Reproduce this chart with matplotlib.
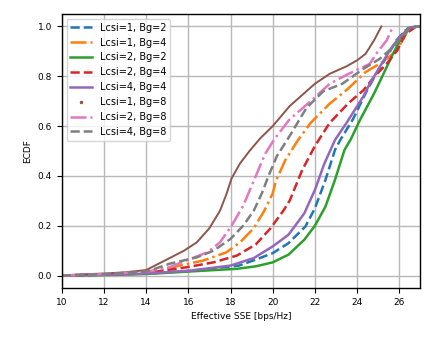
import matplotlib
matplotlib.use("Agg")
import matplotlib.pyplot as plt
from matplotlib.lines import Line2D

# ECDF curves: (Effective SSE, ECDF)
labels = ["Lcsi=1, Bg=2", "Lcsi=1, Bg=4", "Lcsi=2, Bg=2", "Lcsi=2, Bg=4",
          "Lcsi=4, Bg=4", "Lcsi=1, Bg=8", "Lcsi=2, Bg=8", "Lcsi=4, Bg=8"]

x_l1_b2 = [10.0, 12.0, 14.0, 16.0, 18.4, 19.2, 20.0, 20.75, 21.55, 22.0, 22.5, 22.95, 23.2, 23.8, 24.45, 24.9, 25.4, 25.86, 26.3, 26.8, 27.0]
y_l1_b2 = [0.0, 0.003, 0.008, 0.018, 0.04, 0.064, 0.09, 0.13, 0.197, 0.27, 0.384, 0.504, 0.544, 0.627, 0.74, 0.81, 0.877, 0.944, 0.985, 1.0, 1.0]

x_l1_b4 = [10.0, 12.0, 14.0, 15.6, 16.7, 17.8, 18.45, 19.1, 19.6, 20.0, 20.15, 20.6, 21.2, 21.8, 22.7, 23.5, 24.4, 25.2, 25.9, 26.4, 26.8, 27.0]
y_l1_b4 = [0.0, 0.005, 0.012, 0.04, 0.06, 0.093, 0.133, 0.19, 0.26, 0.33, 0.38, 0.464, 0.544, 0.613, 0.69, 0.745, 0.817, 0.857, 0.904, 0.984, 1.0, 1.0]

x_l2_b2 = [10.3, 12.0, 14.0, 16.0, 18.3, 19.2, 20.0, 20.75, 21.5, 22.0, 22.5, 22.95, 23.4, 23.7, 24.15, 24.8, 25.25, 25.7, 26.1, 26.4, 26.8, 27.0]
y_l2_b2 = [0.0, 0.002, 0.006, 0.016, 0.027, 0.037, 0.053, 0.084, 0.144, 0.2, 0.277, 0.384, 0.504, 0.547, 0.627, 0.73, 0.81, 0.89, 0.957, 0.993, 1.0, 1.0]

x_l2_b4 = [10.0, 12.0, 14.0, 15.9, 17.2, 18.3, 19.2, 19.9, 20.5, 20.8, 21.4, 22.0, 22.7, 23.6, 24.3, 24.8, 25.4, 25.9, 26.3, 26.8, 27.0]
y_l2_b4 = [0.0, 0.004, 0.01, 0.033, 0.053, 0.08, 0.125, 0.19, 0.26, 0.3, 0.424, 0.52, 0.613, 0.693, 0.744, 0.797, 0.85, 0.904, 0.97, 1.0, 1.0]

x_l4_b4 = [10.0, 12.0, 14.0, 16.1, 18.0, 19.1, 20.0, 20.75, 21.5, 22.0, 22.45, 22.95, 23.5, 24.3, 24.6, 25.07, 25.55, 26.0, 26.5, 26.8, 27.0]
y_l4_b4 = [0.0, 0.003, 0.008, 0.02, 0.04, 0.07, 0.117, 0.164, 0.25, 0.344, 0.45, 0.544, 0.613, 0.72, 0.77, 0.837, 0.904, 0.957, 0.995, 1.0, 1.0]

x_l1_b8 = [10.0, 11.0, 12.0, 13.0, 14.0, 15.0, 15.8, 16.4, 17.0, 17.5, 17.8, 18.05, 18.45, 18.9, 19.4, 20.0, 20.8, 22.0, 22.7, 23.5, 24.0, 24.4, 24.8, 25.15]
y_l1_b8 = [0.0, 0.005, 0.008, 0.013, 0.022, 0.065, 0.10, 0.133, 0.19, 0.26, 0.325, 0.39, 0.45, 0.5, 0.55, 0.6, 0.68, 0.77, 0.81, 0.84, 0.864, 0.89, 0.944, 1.0]

x_l2_b8 = [10.0, 12.0, 14.0, 15.1, 16.1, 16.9, 17.5, 18.05, 18.6, 19.1, 19.65, 20.1, 20.8, 21.8, 22.7, 23.6, 24.6, 24.9, 25.4, 25.7]
y_l2_b8 = [0.0, 0.006, 0.015, 0.033, 0.067, 0.093, 0.133, 0.2, 0.28, 0.38, 0.49, 0.55, 0.627, 0.7, 0.77, 0.81, 0.85, 0.89, 0.944, 1.0]

x_l4_b8 = [10.0, 12.0, 14.0, 15.1, 16.4, 17.2, 18.0, 18.6, 19.1, 19.5, 19.8, 20.2, 20.8, 21.6, 22.4, 23.3, 24.3, 25.07, 25.7, 26.1, 26.5, 26.8, 27.0]
y_l4_b8 = [0.0, 0.006, 0.015, 0.047, 0.073, 0.1, 0.147, 0.2, 0.26, 0.333, 0.4, 0.48, 0.56, 0.673, 0.74, 0.77, 0.83, 0.87, 0.917, 0.957, 0.99, 1.0, 1.0]

xs = [x_l1_b2, x_l1_b4, x_l2_b2, x_l2_b4, x_l4_b4, x_l1_b8, x_l2_b8, x_l4_b8]
ys = [y_l1_b2, y_l1_b4, y_l2_b2, y_l2_b4, y_l4_b4, y_l1_b8, y_l2_b8, y_l4_b8]
styles = ["--", "-.", "-", "--", "-", "-", "-.", "--"]
colors = ["C0", "C1", "C2", "C3", "C4", "C5", "C6", "C7"]

plt.rcParams["font.size"] = 6.5
fig = plt.figure(figsize=(4.35, 3.44), dpi=100)
ax = fig.add_axes([0.1418, 0.1628, 0.8247, 0.7965])

handles = []
for x, y, ls, c, lab in zip(xs, ys, styles, colors, labels):
    lw = 1.4 if lab == "Lcsi=1, Bg=8" else 1.8
    ln, = ax.plot(x, y, ls=ls, color=c, lw=lw, label=lab)
    if lab == "Lcsi=1, Bg=8":
        handles.append(Line2D([], [], ls="none", marker=".", ms=3, color=c, label=lab))
    else:
        handles.append(ln)

ax.set_xlim(10, 27)
ax.set_ylim(-0.05, 1.05)
ax.set_xticks([10, 12, 14, 16, 18, 20, 22, 24, 26])
ax.set_yticks([0.0, 0.2, 0.4, 0.6, 0.8, 1.0])
ax.grid(True, color="#b8b8b8", lw=1.0)
ax.set_axisbelow(True)
for s in ax.spines.values():
    s.set_linewidth(1.0)
ax.set_xlabel("Effective SSE [bps/Hz]")
ax.set_ylabel("ECDF")
ax.legend(handles=handles, loc="upper left", fontsize=7, handlelength=2.2)

fig.savefig("out.png", dpi=100)
